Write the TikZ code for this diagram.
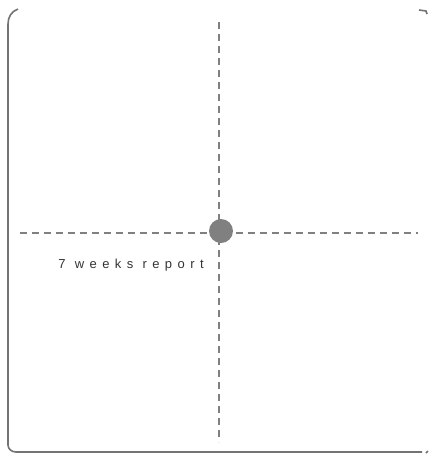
\documentclass[tikz,border=0pt]{standalone}
\usepackage{fontspec}
\setmainfont{Liberation Sans}
\newfontfamily\spacedfont[LetterSpace=42]{Liberation Sans}
\begin{document}
\begin{tikzpicture}[x=1pt,y=-1pt,
  frame/.style={draw=black!55, line width=1.6pt},
  guide/.style={draw=black!50, dashed, dash pattern=on 7pt off 5pt, line width=1.1pt},
  dot/.style={circle, fill=black!50, minimum size=24pt, inner sep=0pt},
  lbl/.style={font=\spacedfont\fontsize{13}{15}\selectfont, text=black!80, anchor=east, inner sep=0pt}]
\useasboundingbox (0,0) rectangle (430,456);
\coordinate (tl) at (18,9);
\coordinate (bl) at (8,445);
\coordinate (br) at (422,452);
\draw[frame] (tl) to[out=200,in=90] (8,24) -- (bl) to[out=-90,in=180] (16,452) -- (br);
\draw[frame] (419,10) -- (426,11) -- (427,14);
\draw[frame] (426,453) -- (428,451);
\coordinate (vt) at (219,22);
\coordinate (vb) at (219,442);
\coordinate (hl) at (20,233);
\coordinate (hr) at (418,233);
\draw[guide] (vt) -- (vb);
\draw[guide] (hl) -- (hr);
\node[dot] (p) at (221,231) {};
\node[lbl] (t) at (204,265) {7 weeks report};
\end{tikzpicture}
\end{document}
